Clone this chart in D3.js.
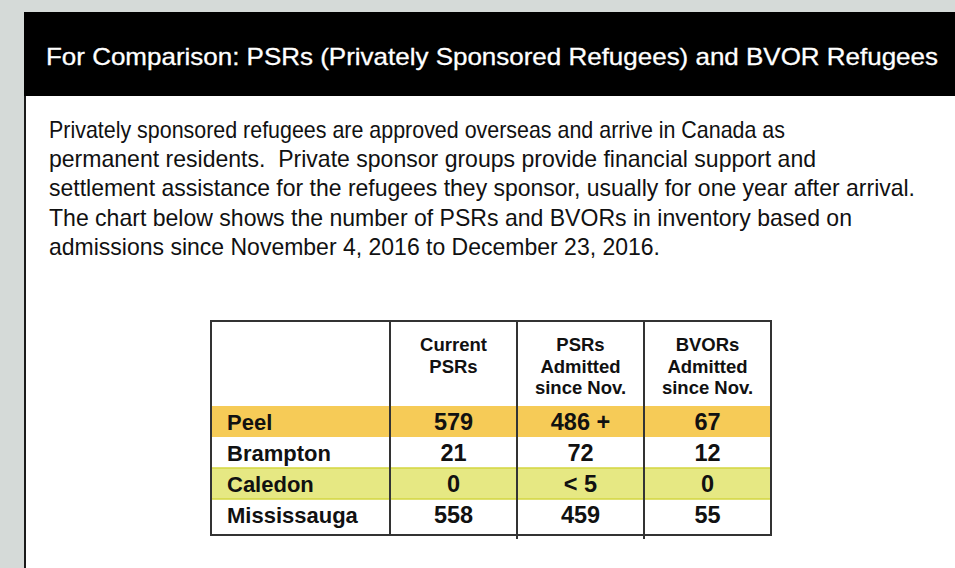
<!DOCTYPE html>
<html lang="en">
<head>
  <meta charset="utf-8">
  <title>PSRs and BVOR Refugees</title>
  <script src="https://d3js.org/d3.v7.min.js"></script>
</head>
<style>
body { margin: 0; background: #d5dad8; }
.title { font-family: "Liberation Sans", Arial, sans-serif; font-size: 24px; fill: #fff; stroke: #fff; stroke-width: 0.3px; }
.para { font-family: "Liberation Sans", Arial, sans-serif; font-size: 24px; fill: #111; white-space: pre; }
.head { font-family: "Liberation Sans", Arial, sans-serif; font-weight: bold; font-size: 18.5px; fill: #111; text-anchor: middle; }
.cell { font-family: "Liberation Sans", Arial, sans-serif; font-weight: bold; font-size: 22px; fill: #111; }
.num { font-size: 23.5px; }
.rule { stroke: #333; stroke-width: 2; }
</style>
<body>
<div class="chart"></div>
<script>
var titleText = "For Comparison: PSRs (Privately Sponsored Refugees) and BVOR Refugees";
var paraLines = [
  "Privately sponsored refugees are approved overseas and arrive in Canada as",
  "permanent residents.  Private sponsor groups provide financial support and",
  "settlement assistance for the refugees they sponsor, usually for one year after arrival.",
  "The chart below shows the number of PSRs and BVORs in inventory based on",
  "admissions since November 4, 2016 to December 23, 2016."
];
var paraWidths = [736, 767, 866, 803, 611];

var regions = ["Peel", "Brampton", "Caledon", "Mississauga"];
var columns = ["current", "psrs", "bvors"];
var columnHeaders = [["Current", "PSRs"], ["PSRs", "Admitted", "since Nov."], ["BVORs", "Admitted", "since Nov."]];
var currentPSRs = ["579", "21", "0", "558"];
var psrsAdmitted = ["486 +", "72", "< 5", "459"];
var bvorsAdmitted = ["67", "12", "0", "55"];
var rowColors = {"Peel": "#f6cb57", "Caledon": "#e6e883"};

var width = 955, height = 568;
var svg = d3.select(".chart").append("svg")
  .attr("width", width)
  .attr("height", height);

// panel
svg.append("rect").attr("x", 24).attr("y", 12).attr("width", width - 24).attr("height", height - 12).attr("fill", "#fff");
svg.append("rect").attr("x", 24).attr("y", 12).attr("width", width - 24).attr("height", 84).attr("fill", "#000");
svg.append("line").attr("x1", 25).attr("x2", 25).attr("y1", 96).attr("y2", height)
  .attr("stroke", "#1a1a1a").attr("stroke-width", 2);

svg.append("text").attr("class", "title")
  .attr("x", 46).attr("y", 65)
  .attr("textLength", 892).attr("lengthAdjust", "spacingAndGlyphs")
  .text(titleText);

svg.selectAll(".para").data(paraLines).enter().append("text")
  .attr("class", "para")
  .attr("x", 49)
  .attr("y", function(d, i) { return 138 + i * 29.2; })
  .attr("textLength", function(d, i) { return paraWidths[i]; })
  .attr("lengthAdjust", "spacingAndGlyphs")
  .text(function(d) { return d; });

// table
var tableLeft = 211, tableRight = 771, tableTop = 321, tableBottom = 535;
var rowY = d3.scaleBand().domain(regions).range([406, 530]);
var colX = d3.scaleBand().domain(columns).range([390, tableRight]);

var rows = regions.map(function(r, i) {
  return {region: r, values: [currentPSRs[i], psrsAdmitted[i], bvorsAdmitted[i]]};
});

var table = svg.append("g");
table.selectAll(".band").data(regions.filter(function(r) { return rowColors[r]; }))
  .enter().append("rect")
  .attr("x", tableLeft).attr("width", tableRight - tableLeft)
  .attr("y", function(d) { return rowY(d); })
  .attr("height", rowY.bandwidth())
  .attr("fill", function(d) { return rowColors[d]; })
  .attr("stroke", function(d) { return d == "Caledon" ? "#d3d640" : "none"; })
  .attr("stroke-width", 1.5);

table.selectAll(".divider").data(columns).enter().append("line")
  .attr("class", "rule")
  .attr("x1", function(d) { return colX(d); })
  .attr("x2", function(d) { return colX(d); })
  .attr("y1", tableTop)
  .attr("y2", function(d, i) { return i == 0 ? tableBottom : tableBottom + 4; });

table.append("rect")
  .attr("x", tableLeft).attr("y", tableTop)
  .attr("width", tableRight - tableLeft).attr("height", tableBottom - tableTop)
  .attr("fill", "none").attr("stroke", "#333").attr("stroke-width", 2);

columnHeaders.forEach(function(lines, ci) {
  table.selectAll(".h" + ci).data(lines).enter().append("text")
    .attr("class", "head")
    .attr("x", colX(columns[ci]) + colX.bandwidth() / 2)
    .attr("y", function(d, i) { return 351 + i * 21.5; })
    .text(function(d) { return d; });
});

var rowG = table.selectAll(".row").data(rows).enter().append("g")
  .attr("transform", function(d) { return "translate(0," + (rowY(d.region) + rowY.bandwidth() / 2 + 8) + ")"; });

rowG.append("text").attr("class", "cell")
  .attr("x", 227)
  .text(function(d) { return d.region; });

rowG.selectAll(".val").data(function(d) { return d.values; }).enter().append("text")
  .attr("class", "cell num")
  .attr("text-anchor", "middle")
  .attr("x", function(d, i) { return colX(columns[i]) + colX.bandwidth() / 2; })
  .text(function(d) { return d; });
</script>
</body>
</html>
